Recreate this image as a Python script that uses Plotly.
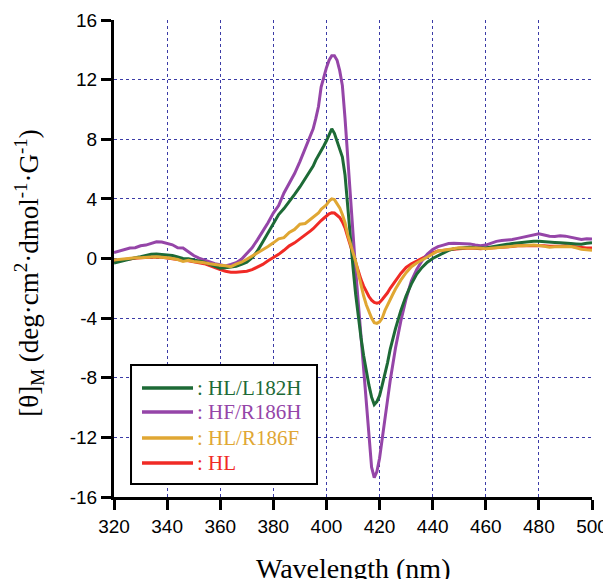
import plotly.graph_objects as go

# ---- data -------------------------------------------------------------
wavelength = (list(range(320, 395, 2)) + list(range(395, 426, 1)) +
              list(range(426, 501, 2)))

series_names = ["HL/L182H", "HF/R186H", "HL/R186F", "HL"]
series_colors = ["#1d6a36", "#9545a8", "#e0a733", "#f02a25"]

hl_l182h = [
    -0.30, -0.20, -0.10, 0.00, 0.05, 0.12, 0.20, 0.28, 0.30, 0.28,
    0.25, 0.20, 0.10, 0.00, -0.02, -0.08, -0.15, -0.25, -0.40, -0.50,
    -0.65, -0.62, -0.58, -0.52, -0.40, -0.25, 0.05, 0.50, 1.10, 1.75,
    2.40, 2.95, 3.35, 3.80, 4.30, 4.80, 5.35, 5.90,
    6.20, 6.60, 6.90, 7.20, 7.55, 7.90, 8.30, 8.70, 8.40, 7.85,
    7.40, 6.80, 5.60, 3.50, 1.20, -0.60, -2.40, -4.00, -5.30, -6.50,
    -7.60, -8.50, -9.30, -9.80, -9.60, -9.20, -8.50, -7.80, -7.00, -6.10,
    -5.40,
    -4.70, -3.50, -2.50, -1.70, -1.05, -0.60, -0.25, 0.00, 0.18, 0.35,
    0.55, 0.65, 0.70, 0.72, 0.75, 0.72, 0.70, 0.70, 0.78, 0.85,
    0.90, 0.95, 1.00, 1.05, 1.05, 1.10, 1.15, 1.16, 1.12, 1.10,
    1.08, 1.05, 1.05, 1.00, 0.98, 0.95, 1.02, 1.05,
]

hf_r186h = [
    0.40, 0.50, 0.55, 0.70, 0.72, 0.85, 0.90, 1.00, 1.12, 1.10,
    1.00, 0.92, 0.72, 0.70, 0.45, 0.20, 0.02, -0.12, -0.25, -0.35,
    -0.42, -0.50, -0.40, -0.28, -0.05, 0.30, 0.72, 1.25, 1.80, 2.40,
    3.05, 3.55, 4.40, 5.05, 5.70, 6.50, 7.35, 8.20,
    8.70, 9.40, 10.20, 11.50, 12.20, 12.80, 13.30, 13.60, 13.60, 13.30,
    12.60, 11.60, 9.40, 6.60, 4.30, 1.70, -0.80, -3.00, -5.40, -7.70,
    -10.00, -12.30, -14.00, -14.70, -14.30, -13.40, -12.00, -10.50, -9.50, -8.20,
    -7.00,
    -6.00, -4.20, -2.70, -1.50, -0.74, -0.15, 0.30, 0.60, 0.80, 0.90,
    1.00, 1.02, 1.00, 0.98, 0.98, 0.90, 0.85, 0.90, 1.05, 1.15,
    1.20, 1.22, 1.28, 1.35, 1.42, 1.50, 1.58, 1.65, 1.58, 1.50,
    1.48, 1.52, 1.50, 1.42, 1.35, 1.28, 1.32, 1.30,
]

hl_r186f = [
    -0.10, -0.05, 0.00, 0.00, 0.05, 0.05, 0.10, 0.10, 0.12, 0.10,
    0.05, 0.00, -0.07, -0.20, -0.12, -0.20, -0.22, -0.28, -0.35, -0.42,
    -0.45, -0.48, -0.55, -0.38, -0.25, -0.05, 0.15, 0.38, 0.60, 0.80,
    1.05, 1.32, 1.40, 1.75, 1.95, 2.30, 2.35, 2.65,
    2.75, 2.90, 3.05, 3.30, 3.45, 3.60, 3.85, 4.00, 3.95, 3.70,
    3.40, 2.95, 2.40, 1.60, 1.00, 0.45, -0.20, -1.00, -1.80, -2.50,
    -3.10, -3.60, -4.00, -4.30, -4.35, -4.25, -4.00, -3.50, -3.10, -2.75,
    -2.40,
    -2.05, -1.45, -0.95, -0.55, -0.30, -0.10, 0.15, 0.35, 0.50, 0.55,
    0.60, 0.65, 0.72, 0.70, 0.72, 0.70, 0.68, 0.65, 0.68, 0.72,
    0.75, 0.78, 0.82, 0.85, 0.85, 0.88, 0.90, 0.88, 0.82, 0.75,
    0.78, 0.80, 0.82, 0.80, 0.72, 0.62, 0.58, 0.55,
]

hl = [
    -0.15, -0.10, -0.05, 0.00, 0.02, 0.05, 0.08, 0.10, 0.10, 0.08,
    0.02, -0.02, -0.08, -0.12, -0.15, -0.20, -0.28, -0.35, -0.50, -0.62,
    -0.75, -0.85, -0.92, -0.93, -0.90, -0.85, -0.75, -0.58, -0.40, -0.15,
    0.05, 0.28, 0.55, 0.85, 1.05, 1.30, 1.55, 1.85,
    2.00, 2.20, 2.38, 2.55, 2.70, 2.85, 3.00, 3.07, 3.05, 2.90,
    2.75, 2.45, 2.05, 1.45, 0.85, 0.25, -0.30, -0.90, -1.40, -1.85,
    -2.25, -2.55, -2.80, -2.95, -3.00, -2.95, -2.75, -2.55, -2.30, -2.00,
    -1.75,
    -1.45, -1.00, -0.60, -0.35, -0.18, 0.00, 0.20, 0.38, 0.50, 0.55,
    0.60, 0.62, 0.65, 0.68, 0.70, 0.68, 0.65, 0.68, 0.70, 0.72,
    0.75, 0.78, 0.80, 0.85, 0.85, 0.88, 0.90, 0.88, 0.85, 0.82,
    0.80, 0.82, 0.85, 0.80, 0.75, 0.72, 0.70, 0.70,
]

series_values = [hl_l182h, hf_r186h, hl_r186f, hl]

x_ticks = [320, 340, 360, 380, 400, 420, 440, 460, 480, 500]
y_ticks = [-16, -12, -8, -4, 0, 4, 8, 12, 16]

# ---- figure -----------------------------------------------------------
fig = go.Figure()
draw_order = [3, 1, 0, 2]
for i in draw_order:
    fig.add_trace(go.Scatter(
        x=wavelength, y=series_values[i], mode="lines", name=series_names[i],
        line=dict(color=series_colors[i], width=3), showlegend=False,
    ))

grid_color = "#3b3ba6"
sans = "Liberation Sans"
serif = "Liberation Serif"
axis_common = dict(
    showline=True, linecolor="black", linewidth=3,
    ticks="outside", ticklen=10, tickwidth=2.5, tickcolor="black",
    showgrid=True, gridcolor=grid_color, gridwidth=1.3, griddash="3px,3px",
    zeroline=False, automargin=False,
    tickfont=dict(family=sans, size=19, color="black"),
)
fig.update_xaxes(range=[320, 500], tickvals=x_ticks,
                 ticktext=[str(v) for v in x_ticks], **axis_common)
fig.update_yaxes(range=[-16, 16], tickvals=y_ticks,
                 ticktext=[str(v) for v in y_ticks], **axis_common)

annotations = [
    dict(text="Wavelength (nm)", xref="paper", yref="paper", x=0.5, y=-0.150,
         xanchor="center", yanchor="middle", showarrow=False,
         font=dict(family=serif, size=28, color="black")),
    dict(text="[θ]<sub>M</sub> (deg·cm<sup>2</sup>·dmol<sup>-1</sup>·G<sup>-1</sup>)",
         xref="paper", yref="paper", x=-0.178, y=0.47, textangle=-90,
         xanchor="center", yanchor="middle", showarrow=False,
         font=dict(family=serif, size=27, color="black")),
]

# manual legend box
shapes = [dict(type="rect", xref="paper", yref="paper",
               x0=0.0356, x1=0.4247, y0=0.0273, y1=0.2767,
               line=dict(color="black", width=2), fillcolor="white", layer="above")]
row_y = [0.2285, 0.1782, 0.1237, 0.0713]
for name, color, yy in zip(series_names, series_colors, row_y):
    shapes.append(dict(type="line", xref="paper", yref="paper",
                       x0=0.0586, x1=0.1653, y0=yy, y1=yy,
                       line=dict(color=color, width=3.5), layer="above"))
    annotations.append(dict(text=": " + name, xref="paper", yref="paper",
                            x=0.1700, y=yy, xanchor="left", yanchor="middle",
                            showarrow=False,
                            font=dict(family=serif, size=21, color=color)))

# page body has an 8px default margin: size the figure to fit the window
fig.update_layout(
    width=603, height=571,
    margin=dict(l=106, r=19, t=12, b=82),
    plot_bgcolor="white", paper_bgcolor="white",
    annotations=annotations, shapes=shapes,
    showlegend=False,
)

fig.write_html("out.html")
